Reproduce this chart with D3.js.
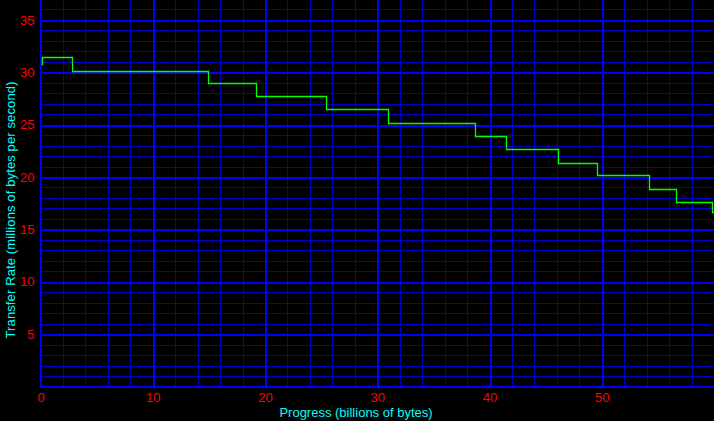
<!DOCTYPE html>
<html>
<head>
<meta charset="utf-8">
<script src="https://cdn.jsdelivr.net/npm/d3@7/dist/d3.min.js"></script>
<style>
html,body{margin:0;padding:0;background:#000;}
svg{display:block;}
</style>
</head>
<body>
<svg id="chart" width="714" height="421"></svg>
<script>
// Step positions (billions of bytes) and transfer rate levels (millions of bytes/s)
const stepStart = [0, 0.1, 2.8, 14.9, 19.2, 25.4, 31.0, 38.7, 41.5, 46.1, 49.6, 54.2, 56.6, 59.8, 60];
const stepRate  = [30.8, 31.45, 30.15, 28.95, 27.7, 26.45, 25.2, 23.9, 22.65, 21.35, 20.15, 18.85, 17.6, 16.7, 16.7];
const xTicks = [0, 10, 20, 30, 40, 50];
const yTicks = [5, 10, 15, 20, 25, 30, 35];
const xTitle = "Progress (billions of bytes)";
const yTitle = "Transfer Rate (millions of bytes per second)";

(function () {
const svg = d3.select("#chart");
const W = 714, H = 421;
const pLeft = 40.5, pRight = 714, pTop = 0, pBottom = 386.5;

svg.append("rect").attr("width", W).attr("height", H).attr("fill", "#000");

const x = d3.scaleLinear().domain([0, 60]).range([pLeft, pRight]);
const y = d3.scaleLinear().domain([0, 36.9]).range([pBottom, pTop]);

const g = svg.append("g").attr("shape-rendering", "crispEdges");

// minor grid
const xMinor = d3.range(2, 60, 2).filter(v => v % 10 !== 0);
const yMinor = d3.range(1, 37, 1).filter(v => v % 5 !== 0);
g.selectAll(".xm").data(xMinor).join("line")
  .attr("x1", d => Math.round(x(d)) + 0.5).attr("x2", d => Math.round(x(d)) + 0.5)
  .attr("y1", pTop).attr("y2", pBottom)
  .attr("stroke", "#0000c8").attr("stroke-width", 1);
g.selectAll(".ym").data(yMinor).join("line")
  .attr("y1", d => Math.round(y(d)) + 0.5).attr("y2", d => Math.round(y(d)) + 0.5)
  .attr("x1", pLeft).attr("x2", pRight)
  .attr("stroke", "#0000c8").attr("stroke-width", 1);

// major grid
g.selectAll(".xM").data(xTicks.filter(d => d > 0)).join("line")
  .attr("x1", d => Math.round(x(d)) + 1).attr("x2", d => Math.round(x(d)) + 1)
  .attr("y1", pTop).attr("y2", pBottom)
  .attr("stroke", "#0000ff").attr("stroke-width", 2);
g.selectAll(".yM").data(yTicks).join("line")
  .attr("y1", d => Math.round(y(d)) + 1).attr("y2", d => Math.round(y(d)) + 1)
  .attr("x1", pLeft).attr("x2", pRight)
  .attr("stroke", "#0000ff").attr("stroke-width", 2);

// axes lines
g.append("line").attr("x1", 41).attr("x2", 41).attr("y1", pTop).attr("y2", pBottom + 1)
  .attr("stroke", "#0000ff").attr("stroke-width", 2);
g.append("line").attr("x1", 40).attr("x2", pRight).attr("y1", pBottom).attr("y2", pBottom)
  .attr("stroke", "#0000ff").attr("stroke-width", 2);

// tick labels via d3 axes
const xAxis = d3.axisBottom(x).tickValues(xTicks).tickSize(0).tickPadding(6).tickFormat(d3.format("d"));
const yAxis = d3.axisLeft(y).tickValues(yTicks).tickSize(0).tickPadding(6).tickFormat(d3.format("d"));
const gx = svg.append("g").attr("transform", `translate(0,${pBottom})`).call(xAxis);
const gy = svg.append("g").attr("transform", `translate(${pLeft},0)`).call(yAxis);
[gx, gy].forEach(a => {
  a.select(".domain").remove();
  a.selectAll("text").attr("fill", "#ff0000")
    .attr("font-family", "'Liberation Sans', Arial, sans-serif").attr("font-size", 13);
});
gx.selectAll("text").attr("dy", "0.75em").attr("y", 6);

// line
const pts = stepStart.map((d, i) => [d, stepRate[i]]);
const line = d3.line().x(d => Math.round(x(d[0])) + 0.5).y(d => Math.round(y(d[1])) + 0.5).curve(d3.curveStepAfter);
svg.append("path").datum(pts).attr("d", line)
  .attr("fill", "none").attr("stroke", "#00ff00").attr("stroke-width", 1.3);

// titles
svg.append("text").text(xTitle)
  .attr("x", 356).attr("y", 417).attr("text-anchor", "middle")
  .attr("fill", "#00ffff").attr("font-family", "'Liberation Sans', Arial, sans-serif")
  .attr("font-size", 13);
svg.append("text").text(yTitle)
  .attr("transform", "translate(15,210) rotate(-90)").attr("text-anchor", "middle")
  .attr("fill", "#00ffff").attr("font-family", "'Liberation Sans', Arial, sans-serif")
  .attr("font-size", 13).attr("textLength", 257).attr("lengthAdjust", "spacing");
})();
</script>
</body>
</html>
